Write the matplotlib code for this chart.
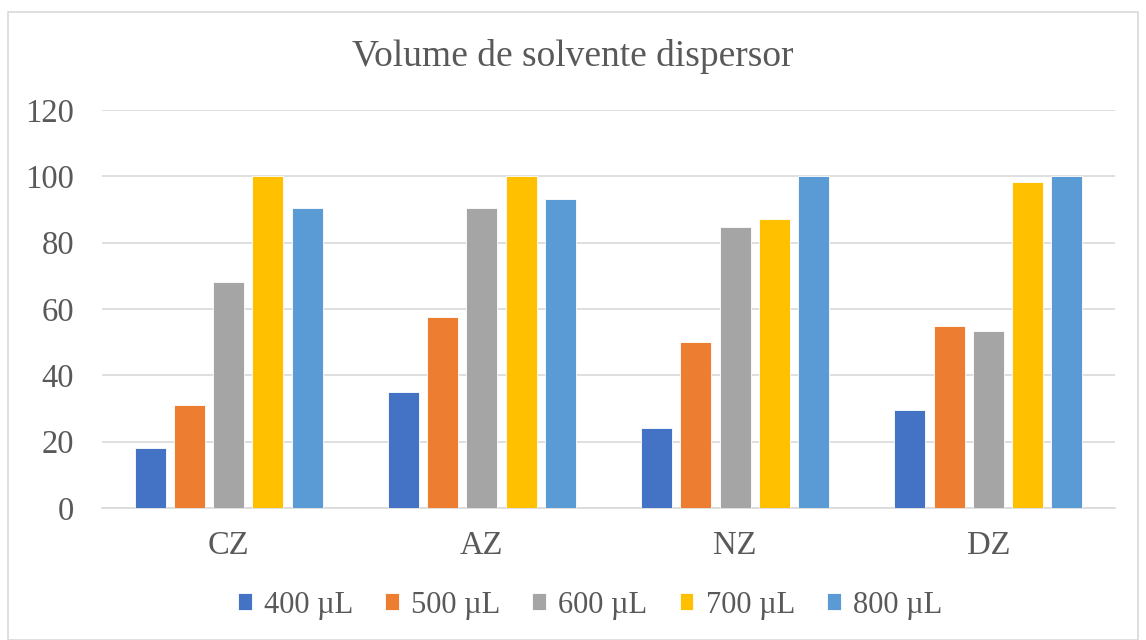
import numpy as np
import matplotlib
matplotlib.use("Agg")
import matplotlib.pyplot as plt
from matplotlib.patches import Rectangle

categories = ["CZ", "AZ", "NZ", "DZ"]
series_names = ["400 µL", "500 µL", "600 µL", "700 µL", "800 µL"]
v400 = [18.1, 35.0, 24.1, 29.5]
v500 = [31.0, 57.6, 50.0, 54.9]
v600 = [68.1, 90.4, 84.7, 53.4]
v700 = [100.0, 100.0, 87.1, 98.3]
v800 = [90.4, 93.2, 100.0, 100.0]
yticks = [0, 20, 40, 60, 80, 100, 120]

series = [v400, v500, v600, v700, v800]
colors = ["#4472C4", "#ED7D31", "#A5A5A5", "#FFC000", "#5B9BD5"]
txt = "#595959"

plt.rcParams['font.family'] = ['Liberation Serif', 'DejaVu Serif']

fig = plt.figure(figsize=(11.46, 6.4), dpi=100)
ax = fig.add_axes([102 / 1146, 1 - 508 / 640, 1013 / 1146, 398 / 640])

x = np.arange(len(categories))
step = 0.155
width = 0.123
for i, (vals, c, name) in enumerate(zip(series, colors, series_names)):
    ax.bar(x + (i - 2) * step, vals, width, color=c, label=name,
           edgecolor="white", linewidth=0.6, zorder=3)

ax.set_xlim(-0.5, 3.5)
ax.set_ylim(0, 120)
ax.set_yticks(yticks)
ax.set_xticks(x)
ax.set_xticklabels(categories)
ax.grid(axis="y", color="#D9D9D9", linewidth=1.2, zorder=0)
for s in ["top", "right", "left"]:
    ax.spines[s].set_visible(False)
ax.spines["bottom"].set_color("#D9D9D9")
ax.spines["bottom"].set_linewidth(1.2)
ax.tick_params(axis="both", length=0, labelsize=23.5, colors=txt)
ax.tick_params(axis="x", pad=16)
ax.tick_params(axis="y", pad=20)

fig.text(0.5, 1 - 56 / 640, "Volume de solvente dispersor", ha="center", va="center",
         fontsize=27, color=txt)

leg = fig.legend(loc="center", bbox_to_anchor=(590 / 1146, 1 - 605 / 640), ncol=5,
                 frameon=False, fontsize=22, handlelength=0.45, handleheight=0.45,
                 handletextpad=0.4, columnspacing=1.05, labelcolor=txt)

fig.patches.append(Rectangle((8 / 1146, 0), 1130 / 1146, 1 - 12 / 640,
                             transform=fig.transFigure, fill=False,
                             edgecolor="#D9D9D9", linewidth=1.2))

fig.savefig("out.png", dpi=100)
